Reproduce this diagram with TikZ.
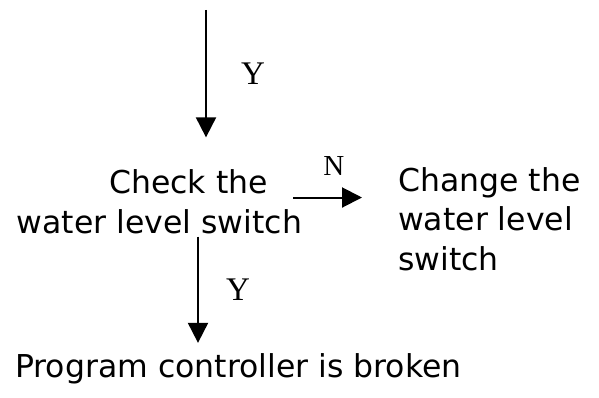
\documentclass[tikz,border=0pt]{standalone}
\usepackage{fontspec}
\usepackage{tikz}
\usetikzlibrary{arrows.meta, positioning, calc}
\newfontfamily\flowfont{DejaVu Sans}
\newfontfamily\markfont{Liberation Serif}

\begin{document}
\begin{tikzpicture}[x=1pt, y=-1pt,
    flow/.style={draw=black, line width=2pt, -{Triangle[length=20pt, width=20pt]}},
    flowtext/.style={inner sep=0pt, font=\flowfont\fontsize{31.5pt}{39.5pt}\selectfont},
    answer/.style={inner sep=0pt, font=\markfont\fontsize{33pt}{38pt}\selectfont}]
    \useasboundingbox (0,0) rectangle (599,398);

    % Steps
    \node[flowtext, align=center, anchor=base] (check) at (159.5,233) {\hspace*{1.85em}Check the\\water level switch};
    \node[flowtext, align=left, anchor=base west] (change) at (398,270) {Change the\\water level\\switch};
    \node[flowtext, anchor=base west] (broken) at (15,377) {Program controller is broken};

    % Arrows
    \coordinate (in) at (206,10);
    \draw[flow] (in) -- ([yshift=32pt]check.north -| in) node[answer, midway, right=34pt] {Y};
    \draw[flow] ([shift={(-9,-4)}]check.east) coordinate (nstart) -- ([xshift=-36pt]change.west |- nstart)
        node[answer, font=\markfont\fontsize{29pt}{32pt}\selectfont, pos=0.59, above=21pt] {N};
    \draw[flow] ([shift={(38.5,3)}]check.south) coordinate (ystart) -- ([yshift=10pt]broken.north -| ystart)
        node[answer, midway, right=27pt] {Y};
\end{tikzpicture}
\end{document}
